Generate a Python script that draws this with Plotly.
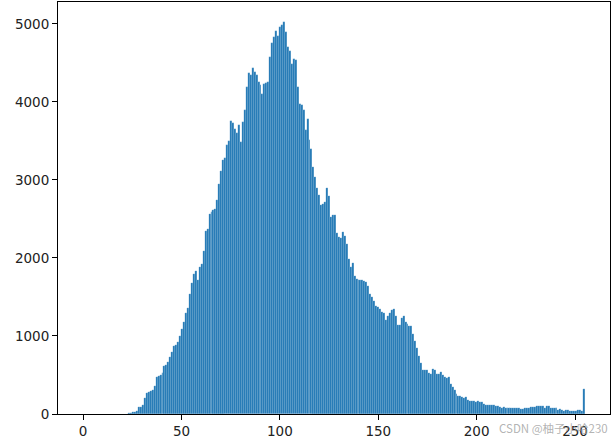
import numpy as np
import plotly.graph_objects as go

# histogram counts for 256 grey-level bins (0..255)
counts = [
    0, 0, 0, 0, 0, 0, 0, 0, 0, 0,
    0, 0, 0, 0, 0, 0, 0, 0, 0, 0,
    0, 0, 5, 10, 15, 20, 25, 40, 85, 85,
    110, 200, 265, 278, 290, 305, 360, 480, 491, 495,
    520, 610, 632, 665, 735, 800, 870, 880, 920, 1000,
    1090, 1180, 1290, 1360, 1540, 1680, 1790, 1835, 1720, 1880,
    1925, 2090, 2350, 2370, 2570, 2590, 2611, 2624, 2740, 2944,
    3115, 3252, 3286, 3444, 3500, 3756, 3731, 3650, 3600, 3700,
    3490, 3744, 3902, 4193, 4372, 4350, 4440, 4380, 4342, 4257,
    4214, 4107, 4227, 4240, 4250, 4577, 4757, 4833, 4910, 4842,
    4962, 4983, 5030, 4900, 4705, 4650, 4490, 4556, 4543, 4192,
    3979, 3957, 3902, 3645, 3786, 3509, 3402, 3167, 3038, 2900,
    2803, 2675, 2697, 2718, 2902, 2800, 2530, 2550, 2550, 2320,
    2270, 2250, 2330, 2280, 2185, 1990, 1885, 1930, 1765, 1725,
    1720, 1715, 1720, 1706, 1693, 1640, 1540, 1495, 1450, 1385,
    1372, 1340, 1310, 1290, 1209, 1260, 1300, 1330, 1345, 1250,
    1140, 1145, 1235, 1250, 1180, 1158, 1124, 1130, 1030, 936,
    850, 740, 650, 565, 560, 570, 530, 517, 575, 560,
    517, 509, 538, 500, 480, 466, 470, 390, 340, 304,
    261, 231, 227, 218, 210, 218, 184, 167, 167, 167,
    154, 163, 154, 154, 124, 111, 116, 120, 111, 116,
    99, 107, 90, 82, 90, 82, 82, 82, 77, 82,
    82, 82, 73, 69, 64, 82, 82, 82, 90, 90,
    86, 99, 99, 99, 99, 82, 99, 99, 82, 78,
    78, 78, 56, 64, 47, 39, 56, 47, 43, 39,
    43, 34, 47, 56, 43, 317,
]
assert len(counts) == 256

x_ticks = [0, 50, 100, 150, 200, 250]
y_ticks = [0, 1000, 2000, 3000, 4000, 5000]

edges = np.linspace(0, 255, 257)
centers = (edges[:-1] + edges[1:]) / 2
bin_w = edges[1] - edges[0]

fig = go.Figure(
    go.Bar(
        x=centers,
        y=counts,
        width=bin_w,
        marker=dict(color="#1f77b4", line=dict(width=0.3, color="rgba(255,255,255,0.45)")),
        hoverinfo="x+y",
    )
)

axis_common = dict(
    showline=True,
    linecolor="black",
    linewidth=1,
    mirror=True,
    ticks="outside",
    ticklen=5,
    tickwidth=1,
    tickcolor="black",
    showgrid=False,
    zeroline=False,
    tickfont=dict(family="DejaVu Sans", size=13.5, color="#222"),
)

span = 255.0
fig.update_layout(
    width=614,
    height=441,
    margin=dict(l=58, r=4, t=2, b=27),
    paper_bgcolor="white",
    plot_bgcolor="white",
    bargap=0,
    showlegend=False,
    xaxis=dict(range=[-0.05 * span, span * 1.05], tickvals=x_ticks, **axis_common),
    yaxis=dict(range=[0, max(counts) * 1.05], tickvals=y_ticks, **axis_common),
    annotations=[
        dict(
            text="CSDN @柚子小哈230",
            xref="paper", yref="paper",
            x=1.0, y=-0.035, xanchor="right", yanchor="middle",
            showarrow=False,
            font=dict(family="Noto Sans CJK SC", size=11.5, color="rgba(160,160,160,0.8)"),
        )
    ],
)

fig.write_html(
    "out.html",
    config={"displayModeBar": False},
    post_script="document.body.style.margin='0';document.body.style.overflow='hidden';",
)
